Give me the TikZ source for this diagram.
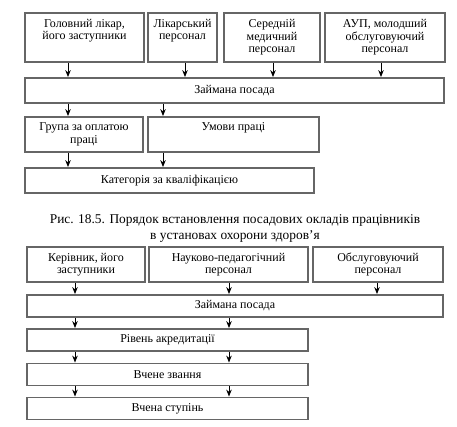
\documentclass[tikz,border=0pt]{standalone}
\usepackage{fontspec}
\setmainfont{Liberation Serif}
\usetikzlibrary{arrows,arrows.meta,shapes}

\tikzset{
  box/.style = {draw = gray!80!black, line width = 1.8pt, rectangle, align = center,
    inner sep = 0pt, font = \fontsize{12}{12.5}\selectfont},
  arr/.style = {-{Stealth[length = 7pt, width = 5.5pt]}, line width = 1pt, black}
}

\begin{document}
\begin{tikzpicture}[x = 1pt, y = -1pt]
\useasboundingbox (0,0) rectangle (457,427);

\node[box, minimum width = 119pt, minimum height = 49pt] (gl) at (84.5,37.5) {Головний лікар,\\ його заступники\\ \strut};
\node[box, minimum width = 69pt, minimum height = 49pt] (lp) at (182.5,37.5) {Лікарський\\ персонал\\ \strut};
\node[box, minimum width = 96pt, minimum height = 49pt] (smp) at (272,37.5) {Середній\\ медичний\\ персонал};
\node[box, minimum width = 120pt, minimum height = 49pt] (aup) at (385,37.5) {АУП, молодший\\ обслуговуючий\\ персонал};
\node[box, minimum width = 419pt, minimum height = 25pt] (zp) at (234.5,90.5) {Займана посада};
\node[box, minimum width = 118pt, minimum height = 35pt] (gop) at (84,134.5) {Група за оплатою\\ праці};
\node[box, minimum width = 171pt, minimum height = 35pt] (up) at (233.5,134.5) {Умови праці\\ \strut};
\node[box, minimum width = 289pt, minimum height = 25pt] (kk) at (169.5,180.5) {Категорія за кваліфікацією};

\coordinate (a1) at (68,0);
\coordinate (a2) at (185,0);
\coordinate (a3) at (273,0);
\coordinate (a4) at (381,0);
\coordinate (a5) at (163,0);

\draw[arr] (gl.south -| a1) -- (zp.north -| a1);
\draw[arr] (lp.south -| a2) -- (zp.north -| a2);
\draw[arr] (smp.south -| a3) -- (zp.north -| a3);
\draw[arr] (aup.south -| a4) -- (zp.north -| a4);
\draw[arr] (zp.south -| a1) -- (gop.north -| a1);
\draw[arr] (zp.south -| a5) -- (up.north -| a5);
\draw[arr] (gop.south -| a1) -- (kk.north -| a1);
\draw[arr] (up.south -| a5) -- (kk.north -| a5);

\node[align = center, font = \fontsize{13.4}{16.5}\selectfont] (cap) at (235,228.5)
  {Рис. 18.5. Порядок встановлення посадових окладів працівників\\ в установах охорони здоров’я};

\node[box, minimum width = 118pt, minimum height = 35pt] (kz) at (86,264.5) {Керівник, його\\ заступники};
\node[box, minimum width = 159pt, minimum height = 35pt] (npp) at (228.5,264.5) {Науково-педагогічний\\ персонал};
\node[box, minimum width = 130pt, minimum height = 35pt] (op) at (378,264.5) {Обслуговуючий\\ персонал};
\node[box, minimum width = 416pt, minimum height = 22pt] (zp2) at (235,306) {Займана посада};
\node[box, minimum width = 281pt, minimum height = 22pt] (ra) at (167.5,340) {Рівень акредитації};
\node[box, minimum width = 281pt, minimum height = 22pt] (vz) at (167.5,374.5) {Вчене звання};
\node[box, minimum width = 281pt, minimum height = 22pt] (vs) at (167.5,408.5) {Вчена ступінь};

\coordinate (b1) at (75,0);
\coordinate (b2) at (229,0);
\coordinate (b3) at (377,0);

\draw[arr] (kz.south -| b1) -- (zp2.north -| b1);
\draw[arr] (npp.south -| b2) -- (zp2.north -| b2);
\draw[arr] (op.south -| b3) -- (zp2.north -| b3);
\draw[arr] (zp2.south -| b1) -- (ra.north -| b1);
\draw[arr] (zp2.south -| b2) -- (ra.north -| b2);
\draw[arr] (ra.south -| b1) -- (vz.north -| b1);
\draw[arr] (ra.south -| b2) -- (vz.north -| b2);
\draw[arr] (vz.south -| b1) -- (vs.north -| b1);
\draw[arr] (vz.south -| b2) -- (vs.north -| b2);

\end{tikzpicture}
\end{document}
